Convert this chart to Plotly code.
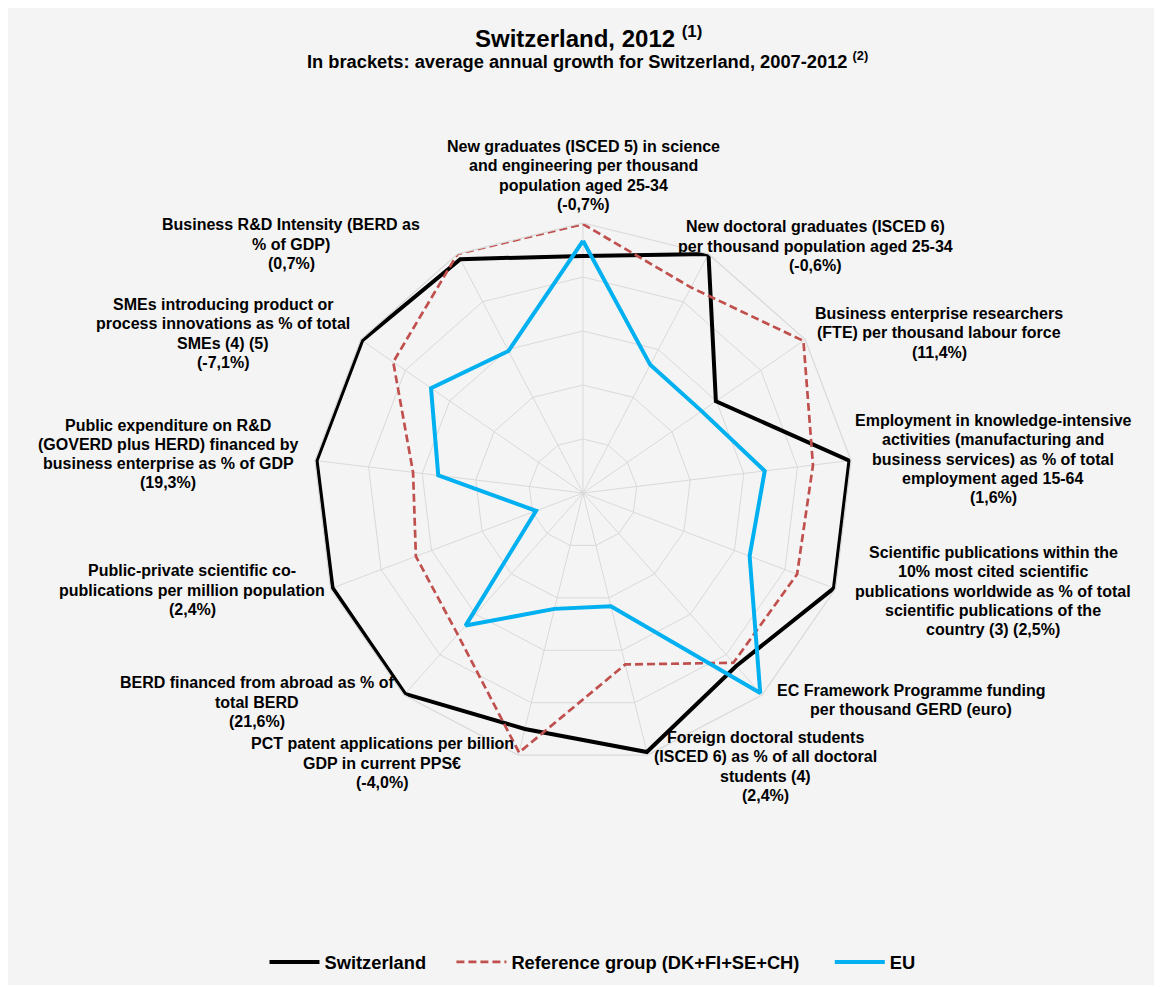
import plotly.graph_objects as go

# ---------------- data ----------------
categories = [
    "New graduates (ISCED 5) in science<br>and engineering per thousand<br>population aged 25-34<br>(-0,7%)",
    "New doctoral graduates (ISCED 6)<br>per thousand population aged 25-34<br>(-0,6%)",
    "Business enterprise researchers<br>(FTE) per thousand labour force<br>(11,4%)",
    "Employment in knowledge-intensive<br>activities (manufacturing and<br>business services) as % of total<br>employment aged 15-64<br>(1,6%)",
    "Scientific publications within the<br>10% most cited scientific<br>publications worldwide as % of total<br>scientific publications of the<br>country (3) (2,5%)",
    "EC Framework Programme funding<br>per thousand GERD (euro)",
    "Foreign doctoral students<br>(ISCED 6) as % of all doctoral<br>students (4)<br>(2,4%)",
    "PCT patent applications per billion<br>GDP in current PPS€<br>(-4,0%)",
    "BERD financed from abroad as % of<br>total BERD<br>(21,6%)",
    "Public-private scientific co-<br>publications per million population<br>(2,4%)",
    "Public expenditure on R&D<br>(GOVERD plus HERD) financed by<br>business enterprise as % of GDP<br>(19,3%)",
    "SMEs introducing product or<br>process innovations as % of total<br>SMEs (4) (5)<br>(-7,1%)",
    "Business R&D Intensity (BERD as<br>% of GDP)<br>(0,7%)",
]
switzerland = [4.39, 5.00, 2.99, 4.97, 4.97, 4.28, 4.94, 4.50, 4.97, 4.96, 4.97, 4.97, 4.89]
reference_group = [4.98, 4.30, 4.96, 4.29, 4.24, 4.20, 3.27, 4.95, 3.50, 3.31, 3.17, 4.27, 5.00]
eu = [4.67, 2.68, 2.67, 3.39, 3.30, 4.95, 2.16, 2.21, 3.28, 0.93, 2.70, 3.42, 2.97]
series_names = ["Switzerland", "Reference group (DK+FI+SE+CH)", "EU"]

# ---------------- layout constants ----------------
W, H = 1149, 977
OFF = 8  # page body margin
FONT = "Liberation Sans, Arial, sans-serif"
GRID = "#D9D9D9"
BG = "#F4F4F4"

# label block centres in page pixels (x, y)
label_pos = [(583, 175.5), (815, 246), (939, 333), (993, 459), (993, 591),
             (911, 700), (765, 766.5), (382, 763), (257, 702), (192, 590),
             (168, 454), (223, 333.5), (291, 244)]
LINE_H = 19.2


def px(x):
    return (x - OFF) / W


def py(y):
    return 1 - (y - OFF) / H


def closed(v):
    return list(v) + [v[0]]


fig = go.Figure()
styles = [
    dict(color="#000000", width=4),
    dict(color="#C0504D", width=2.7, dash="8px,4px"),
    dict(color="#00B0F0", width=4),
]
pads = ["&#160;" * 4, "&#160;" * 5, ""]
for name, vals, st, pad in zip(series_names, [switzerland, reference_group, eu], styles, pads):
    fig.add_trace(go.Scatterpolar(
        r=closed(vals), theta=closed(categories), mode="lines",
        name=name + pad, line=st, hoverinfo="skip"))

annotations = []
for text, (cx, cy) in zip(categories, label_pos):
    lines = text.split("<br>")
    n = len(lines)
    for i, ln in enumerate(lines):
        yy = cy + (i - (n - 1) / 2) * LINE_H
        annotations.append(dict(
            text=ln, x=px(cx), y=py(yy), xref="paper", yref="paper",
            xanchor="center", yanchor="middle", showarrow=False,
            font=dict(family=FONT, size=16, color="#000000", weight="bold")))

annotations.append(dict(
    text="Switzerland, 2012 <sup>(1)</sup>", x=px(588), y=py(37),
    xref="paper", yref="paper", xanchor="center", yanchor="middle",
    showarrow=False, font=dict(family=FONT, size=24, color="#000000", weight="bold")))
annotations.append(dict(
    text="In brackets: average annual growth for Switzerland, 2007-2012 <sup>(2)</sup>",
    x=px(587), y=py(60), xref="paper", yref="paper", xanchor="center",
    yanchor="middle", showarrow=False,
    font=dict(family=FONT, size=18.3, color="#000000", weight="bold")))

fig.update_layout(
    width=W, height=H,
    margin=dict(l=0, r=0, t=0, b=0),
    paper_bgcolor=BG,
    plot_bgcolor=BG,
    font=dict(family=FONT, color="#000000"),
    polar=dict(
        domain=dict(x=[px(313), px(853)], y=[py(763), py(223)]),
        bgcolor=BG,
        gridshape="linear",
        radialaxis=dict(range=[0, 5], dtick=1, showticklabels=False, ticks="",
                        showline=False, gridcolor=GRID, gridwidth=1.2),
        angularaxis=dict(rotation=90, direction="clockwise", showticklabels=False,
                         ticks="", showline=True, linecolor=GRID, linewidth=1.2,
                         gridcolor=GRID, gridwidth=1.2),
    ),
    showlegend=True,
    legend=dict(orientation="h", x=px(592.5), xanchor="center", y=py(962), yanchor="middle",
                bgcolor="rgba(0,0,0,0)", itemwidth=50,
                font=dict(family=FONT, size=18.3, color="#000000", weight="bold")),
    annotations=annotations,
)

fig.write_html("out.html")
